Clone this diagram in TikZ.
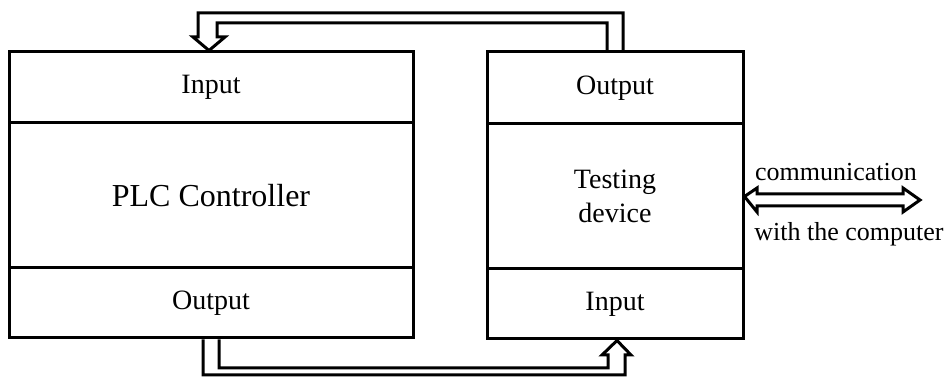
\documentclass[tikz,border=0pt]{standalone}
\usepackage{fontspec}
\setmainfont{Liberation Serif}
\begin{document}
\begin{tikzpicture}[x=0.5pt,y=-0.5pt,
  part/.style={draw,line width=1.5pt,inner sep=0pt,font=\fontsize{14}{17}\selectfont,align=center},
  wire/.style={line width=1.5pt,line join=miter},
  caption/.style={inner sep=0pt,font=\fontsize{13}{15}\selectfont}]
\useasboundingbox (0,0) rectangle (952,378);

% PLC controller column
\node[part,minimum width=202pt,minimum height=35.5pt] (linput) at (211,87.5) {Input};
\node[part,minimum width=202pt,minimum height=72.5pt] (plc) at (211,195.5) {\fontsize{16}{19}\selectfont PLC Controller};
\node[part,minimum width=202pt,minimum height=35pt] (lout) at (211,303) {Output};

% testing device column
\node[part,minimum width=128pt,minimum height=36pt] (tout) at (615,88) {Output};
\node[part,minimum width=128pt,minimum height=72.5pt] (tdev) at (615,196.5) {Testing\\[0pt]device};
\node[part,minimum width=128pt,minimum height=35pt] (tin) at (615,304) {Input};

% hollow arrow: testing device output -> PLC input
\draw[wire] ([xshift=4pt]tout.north) |- (198,13) -- (198,37) -- (193,37)
  -- ([xshift=-1pt]linput.north) -- (225,37) -- (217,37) |- (607,23)
  -- ([xshift=-4pt]tout.north);

% hollow arrow: PLC output -> testing device input
\draw[wire] ([xshift=-4pt]lout.south) |- (625,375) -- (625,355) -- (631,355)
  -- ([xshift=1pt]tin.south) -- (602,355) -- (608,355) |- (219,368)
  -- ([xshift=4pt]lout.south);

% two-way hollow arrow to the computer
\coordinate (pc) at (920,200);
\draw[wire] (tdev.east) -- (757,188) -- (757,194) -- (903,194) -- (903,188)
  -- (pc) -- (903,212) -- (903,206) -- (757,206) -- (757,212) -- cycle;
\node[caption] (comm) at (836,172) {communication};
\node[caption,anchor=west] (withpc) at (754,234) {with the computer};
\end{tikzpicture}
\end{document}
